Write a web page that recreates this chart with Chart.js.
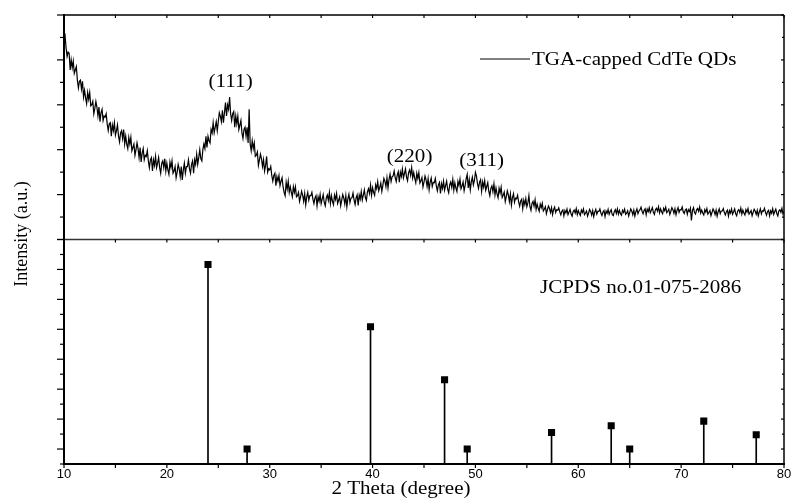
<!DOCTYPE html>
<html>
<head>
<meta charset="utf-8">
<script src="https://cdn.jsdelivr.net/npm/chart.js@4.4.1/dist/chart.umd.min.js"></script>
<style>
  html, body { margin: 0; padding: 0; background: #fff; }
  #wrap { width: 792px; height: 504px; }
</style>
</head>
<body>
<div id="wrap"><canvas id="xrdChart" width="792" height="504"></canvas></div>
<script>
// measured scan: 2 theta from 10 to 80 deg, 0.1 deg step
const scanStart = 10;
const scanStep = 0.1;
const xrdIntensity = [
  9.0, 9.1, 8.55, 8.15, 8.35, 8.3, 7.55, 8.0, 7.65, 7.95,
  7.4, 7.55, 7.7, 7.1, 6.75, 7.05, 7.1, 6.7, 7.05, 6.35,
  6.65, 6.3, 6.05, 6.55, 6.25, 6.55, 5.95, 6.0, 6.15, 5.6,
  5.85, 6.15, 5.9, 5.5, 5.9, 5.25, 5.65, 5.8, 5.3, 5.5,
  5.45, 5.6, 5.15, 4.85, 5.15, 5.2, 4.6, 5.1, 4.85, 5.2,
  4.65, 4.85, 5.1, 4.6, 4.35, 4.75, 4.85, 4.5, 4.9, 4.25,
  4.6, 4.25, 4.05, 4.55, 4.25, 4.55, 3.95, 4.1, 4.25, 3.75,
  4.0, 4.3, 4.05, 3.65, 4.1, 3.45, 3.85, 4.05, 3.55, 3.75,
  3.7, 3.95, 3.5, 3.2, 3.55, 3.65, 3.05, 3.55, 3.3, 3.7,
  3.2, 3.4, 3.65, 3.2, 2.95, 3.4, 3.5, 3.2, 3.6, 3.05,
  3.4, 3.1, 2.9, 3.45, 3.2, 3.5, 2.95, 3.05, 3.25, 2.75,
  3.0, 3.35, 3.15, 2.8, 3.25, 2.65, 3.1, 3.4, 2.95, 3.25,
  3.25, 3.55, 3.15, 2.95, 3.35, 3.5, 2.95, 3.55, 3.35, 3.8,
  3.35, 3.65, 4.0, 3.6, 3.5, 4.0, 4.25, 4.05, 4.6, 4.1,
  4.6, 4.4, 4.3, 4.9, 4.75, 5.2, 4.75, 5.0, 5.25, 4.85,
  5.25, 5.65, 5.5, 5.25, 5.75, 5.2, 5.65, 6.1, 5.5, 6.0,
  5.8, 6.35, 5.6, 5.3, 5.6, 5.7, 5.0, 5.5, 5.15, 5.5,
  4.9, 5.1, 5.3, 4.75, 4.5, 4.9, 5.0, 4.6, 5.0, 4.3,
  5.8, 4.25, 3.95, 4.4, 4.05, 4.3, 3.7, 3.75, 3.9, 3.3,
  3.55, 3.8, 3.6, 3.25, 3.55, 3.05, 3.3, 3.7, 3.0, 3.15,
  3.1, 3.25, 2.85, 2.6, 2.85, 2.95, 2.4, 2.8, 2.6, 2.85,
  2.4, 2.6, 2.75, 2.35, 2.1, 1.95, 2.55, 2.25, 2.6, 2.1,
  2.35, 2.1, 1.9, 2.35, 2.1, 2.35, 1.9, 1.95, 2.1, 1.7,
  1.9, 2.15, 1.98, 1.7, 2.05, 1.55, 1.9, 2.1, 1.75, 1.95,
  1.95, 2.1, 1.8, 1.6, 1.85, 1.95, 1.5, 1.9, 1.7, 2.0,
  1.6, 1.8, 2.0, 1.65, 1.5, 1.85, 1.98, 1.75, 2.1, 1.6,
  1.95, 1.7, 1.55, 1.98, 1.78, 2.05, 1.6, 1.75, 1.9, 1.5,
  1.75, 2.0, 1.85, 1.58, 1.95, 1.45, 1.82, 2.02, 1.65, 1.85,
  1.86, 2.07, 1.76, 1.56, 1.85, 1.98, 1.52, 1.98, 1.8, 2.14,
  1.76, 1.98, 2.21, 1.87, 1.74, 2.12, 2.26, 2.05, 2.43, 1.97,
  2.31, 2.1, 1.97, 2.44, 2.27, 2.58, 2.17, 2.32, 2.51, 2.14,
  2.41, 2.72, 2.6, 2.35, 2.75, 2.3, 2.68, 2.91, 2.58, 2.8,
  2.83, 3.05, 2.76, 2.58, 2.88, 3.02, 2.55, 3.0, 2.81, 3.14,
  2.74, 2.94, 3.14, 2.78, 2.62, 2.98, 3.1, 2.86, 3.2, 2.74,
  2.98, 2.72, 2.53, 2.95, 2.72, 2.98, 2.52, 2.62, 2.76, 2.34,
  2.56, 2.83, 2.66, 2.36, 2.71, 2.22, 2.56, 2.74, 2.36, 2.54,
  2.53, 2.72, 2.38, 2.17, 2.43, 2.54, 2.05, 2.49, 2.28, 2.6,
  2.2, 2.4, 2.6, 2.24, 2.08, 2.44, 2.56, 2.32, 2.68, 2.2,
  2.52, 2.29, 2.14, 2.59, 2.4, 2.69, 2.26, 2.39, 2.56, 2.17,
  2.41, 2.71, 2.9, 2.3, 2.67, 2.21, 2.58, 2.78, 2.43, 2.63,
  2.99, 2.82, 2.49, 2.28, 2.55, 2.66, 2.15, 2.56, 2.33, 2.62,
  2.19, 2.36, 2.53, 2.14, 1.95, 2.28, 2.39, 2.13, 2.48, 1.98,
  2.29, 2.03, 1.86, 2.28, 2.07, 2.33, 1.87, 1.97, 2.11, 1.69,
  1.91, 2.17, 1.99, 1.69, 2.03, 1.53, 1.87, 2.04, 1.66, 1.84,
  1.81, 1.97, 1.67, 1.48, 1.72, 1.8, 1.37, 1.75, 1.55, 1.82,
  1.46, 1.63, 1.95, 1.46, 1.3, 1.61, 1.7, 1.48, 1.77, 1.34,
  1.58, 1.39, 1.26, 1.58, 1.42, 1.61, 1.27, 1.35, 1.46, 1.15,
  1.33, 1.49, 1.38, 1.2, 1.42, 1.11, 1.33, 1.44, 1.2, 1.32,
  1.3, 1.41, 1.23, 1.1, 1.26, 1.32, 1.05, 1.29, 1.18, 1.35,
  1.11, 1.22, 1.34, 1.13, 1.04, 1.25, 1.31, 1.18, 1.38, 1.11,
  1.29, 1.16, 1.07, 1.31, 1.2, 1.36, 1.11, 1.18, 1.27, 1.04,
  1.18, 1.34, 1.25, 1.09, 1.29, 1.02, 1.22, 1.34, 1.13, 1.25,
  1.25, 1.36, 1.18, 1.07, 1.22, 1.29, 1.02, 1.27, 1.16, 1.34,
  1.12, 1.25, 1.33, 1.1, 1.06, 1.24, 1.33, 1.16, 1.36, 1.13,
  1.3, 1.15, 1.08, 1.3, 1.21, 1.35, 1.12, 1.17, 1.28, 1.05,
  1.2, 1.36, 1.27, 1.1, 1.31, 1.04, 1.24, 1.36, 1.15, 1.27,
  1.33, 1.44, 1.26, 1.15, 1.3, 1.37, 1.1, 1.35, 1.24, 1.42,
  1.19, 1.3, 1.42, 1.21, 1.12, 1.33, 1.39, 1.26, 1.46, 1.19,
  1.37, 1.24, 1.15, 1.39, 1.28, 1.44, 1.19, 1.26, 1.35, 1.12,
  1.26, 1.42, 1.33, 1.17, 1.37, 1.1, 1.3, 1.42, 1.21, 1.33,
  1.32, 1.45, 1.24, 1.16, 1.31, 1.36, 1.12, 1.33, 1.25, 1.4,
  0.85, 1.3, 1.42, 1.2, 1.13, 1.32, 1.38, 1.25, 1.45, 1.18,
  1.31, 1.18, 1.09, 1.33, 1.22, 1.38, 1.13, 1.2, 1.29, 1.06,
  1.2, 1.36, 1.27, 1.11, 1.31, 1.04, 1.24, 1.36, 1.15, 1.27,
  1.27, 1.38, 1.2, 1.09, 1.24, 1.31, 1.04, 1.29, 1.18, 1.36,
  1.13, 1.24, 1.36, 1.15, 1.06, 1.27, 1.33, 1.2, 1.4, 1.13,
  1.31, 1.18, 1.09, 1.33, 1.22, 1.38, 1.13, 1.2, 1.29, 1.06,
  1.21, 1.35, 1.26, 1.12, 1.3, 1.05, 1.23, 1.37, 1.14, 1.28,
  1.26, 1.39, 1.21, 1.08, 1.25, 1.3, 1.05, 1.28, 1.17, 1.37,
  1.12, 1.25, 1.35, 1.16, 1.05, 1.28, 1.32, 1.21, 1.39, 1.14,
  1.25
];

// reference card lines (relative intensity)
const refTheta = [24.0, 27.8, 39.8, 47.0, 49.2, 57.4, 63.2, 65.0, 72.2, 77.3];
const refIntensity = [100, 7.5, 68.8, 42.2, 7.5, 15.8, 19.2, 7.5, 21.5, 14.7];

// hkl labels over the broad peaks
const peakLabels = ['(111)', '(220)', '(311)'];
const peakLabelTheta = [26.2, 43.6, 50.6];
const peakLabelY = [6.8, 3.45, 3.27];

const seriesName = 'TGA-capped CdTe QDs';
const cardName = 'JCPDS no.01-075-2086';

const serif = '"Liberation Serif", "Times New Roman", serif';
const sans = '"Liberation Sans", Arial, sans-serif';

const xrdPoints = xrdIntensity.map((v, i) => ({ x: +(scanStart + i * scanStep).toFixed(1), y: v }));
const refPoints = refTheta.map((t, i) => ({ x: t, y: refIntensity[i] }));

// Times-like text, a bit wide like the original figure
function wideText(ctx, text, x, y, align, size) {
  ctx.save();
  ctx.font = size + 'px ' + serif;
  ctx.translate(x, y);
  ctx.scale(1.17, 1);
  ctx.textAlign = align;
  ctx.textBaseline = 'alphabetic';
  ctx.fillStyle = '#000';
  ctx.fillText(text, 0, 0);
  ctx.restore();
}

function seg(ctx, x1, y1, x2, y2) {
  ctx.beginPath();
  ctx.moveTo(x1, y1);
  ctx.lineTo(x2, y2);
  ctx.stroke();
}

const framePlugin = {
  id: 'frame',
  afterDatasetsDraw(chart) {
    const { ctx, chartArea: a, scales } = chart;
    const x = scales.x, yTop = scales.yTop, yBot = scales.yBot;
    const mid = yTop.bottom;
    ctx.save();
    ctx.strokeStyle = '#000';

    // box + panel divider
    ctx.lineWidth = 1.5;
    seg(ctx, a.left, a.top, a.right, a.top);
    seg(ctx, a.right, a.top, a.right, a.bottom);
    ctx.strokeStyle = '#333';
    seg(ctx, a.left, mid, a.right, mid);
    ctx.strokeStyle = '#000';
    ctx.lineWidth = 2;
    seg(ctx, a.left, a.top - 1, a.left, a.bottom + 1);
    seg(ctx, a.left - 1, a.bottom, a.right + 1, a.bottom);

    // y ticks, left outward and right inward
    ctx.lineWidth = 1.2;
    yTop.ticks.forEach(t => {
      const py = yTop.getPixelForValue(t.value);
      const major = Math.round(t.value) % 2 === 0;
      seg(ctx, a.left - (major ? 7 : 4), py, a.left, py);
      seg(ctx, a.right - (major ? 3 : 2), py, a.right, py);
    });
    yBot.ticks.forEach(t => {
      const py = yBot.getPixelForValue(t.value);
      const major = Math.round(t.value / 7.5) % 2 === 1;
      seg(ctx, a.left - (major ? 7 : 4), py, a.left, py);
      seg(ctx, a.right - (major ? 3 : 2), py, a.right, py);
    });

    // x ticks every 5 deg on the bottom axis, the divider and the top edge
    for (let v = x.min; v <= x.max; v += 5) {
      const px = x.getPixelForValue(v);
      seg(ctx, px, a.bottom, px, a.bottom + 4);
      seg(ctx, px, mid, px, mid + 3);
      seg(ctx, px, a.top, px, a.top + 3);
    }
    ctx.restore();
  },
  afterDraw(chart) {
    const { ctx, chartArea: a, scales } = chart;
    const x = scales.x, yTop = scales.yTop;

    // legend for the measured curve
    ctx.save();
    ctx.strokeStyle = '#000';
    ctx.lineWidth = 1.2;
    seg(ctx, a.left + 416, a.top + 44, a.left + 466, a.top + 44);
    ctx.restore();
    wideText(ctx, seriesName, a.left + 468, a.top + 50, 'left', 18);

    wideText(ctx, cardName, a.left + 476, 292.5, 'left', 18);

    peakLabels.forEach((lab, i) => {
      wideText(ctx, lab, x.getPixelForValue(peakLabelTheta[i]), yTop.getPixelForValue(peakLabelY[i]), 'center', 18);
    });

    // axis titles
    wideText(ctx, '2 Theta (degree)', a.left + 337, 494, 'center', 18);
    ctx.save();
    ctx.translate(22, 234);
    ctx.rotate(-Math.PI / 2);
    ctx.font = '18px ' + serif;
    ctx.fillStyle = '#000';
    ctx.textAlign = 'center';
    ctx.textBaseline = 'middle';
    ctx.fillText('Intensity (a.u.)', 0, 0);
    ctx.restore();
  }
};

new Chart(document.getElementById('xrdChart'), {
  type: 'line',
  data: {
    datasets: [
      {
        type: 'line',
        label: 'JCPDS markers',
        data: refPoints,
        xAxisID: 'x',
        yAxisID: 'yBot',
        showLine: false,
        pointStyle: 'rect',
        pointRadius: 5,
        pointBackgroundColor: '#000',
        pointBorderColor: '#000',
        pointBorderWidth: 0,
        order: 0
      },
      {
        type: 'bar',
        label: 'JCPDS lines',
        data: refPoints,
        xAxisID: 'x',
        yAxisID: 'yBot',
        backgroundColor: '#000',
        barThickness: 1,
        order: 1
      },
      {
        type: 'line',
        label: seriesName,
        data: xrdPoints,
        xAxisID: 'x',
        yAxisID: 'yTop',
        borderColor: '#000',
        borderWidth: 1.2,
        pointRadius: 0,
        tension: 0,
        order: 2
      }
    ]
  },
  options: {
    responsive: false,
    animation: false,
    devicePixelRatio: 1,
    layout: { padding: { top: 15, right: 8, left: 0, bottom: 0 } },
    plugins: { legend: { display: false }, tooltip: { enabled: false } },
    scales: {
      x: {
        type: 'linear',
        position: 'bottom',
        min: 10,
        max: 80,
        offset: false,
        ticks: { stepSize: 10, color: '#000', font: { family: sans, size: 13 }, padding: 3, maxRotation: 0 },
        grid: { display: false, drawTicks: false },
        border: { display: false },
        afterFit(s) {
          s.height = 40;
          s.paddingLeft = 0;
          s.paddingRight = 0;
        }
      },
      // stacked axes are laid out bottom-up: the card panel comes first
      yBot: {
        type: 'linear',
        position: 'left',
        stack: 'xrd',
        stackWeight: 1,
        min: 0,
        max: 112.5,
        ticks: { display: false, stepSize: 7.5 },
        grid: { display: false, drawTicks: false },
        border: { display: false },
        afterFit(s) { s.width = 64; }
      },
      yTop: {
        type: 'linear',
        position: 'left',
        stack: 'xrd',
        stackWeight: 1,
        min: 0,
        max: 10,
        ticks: { display: false, stepSize: 1 },
        grid: { display: false, drawTicks: false },
        border: { display: false },
        afterFit(s) { s.width = 64; }
      }
    }
  },
  plugins: [framePlugin]
});
</script>
</body>
</html>
